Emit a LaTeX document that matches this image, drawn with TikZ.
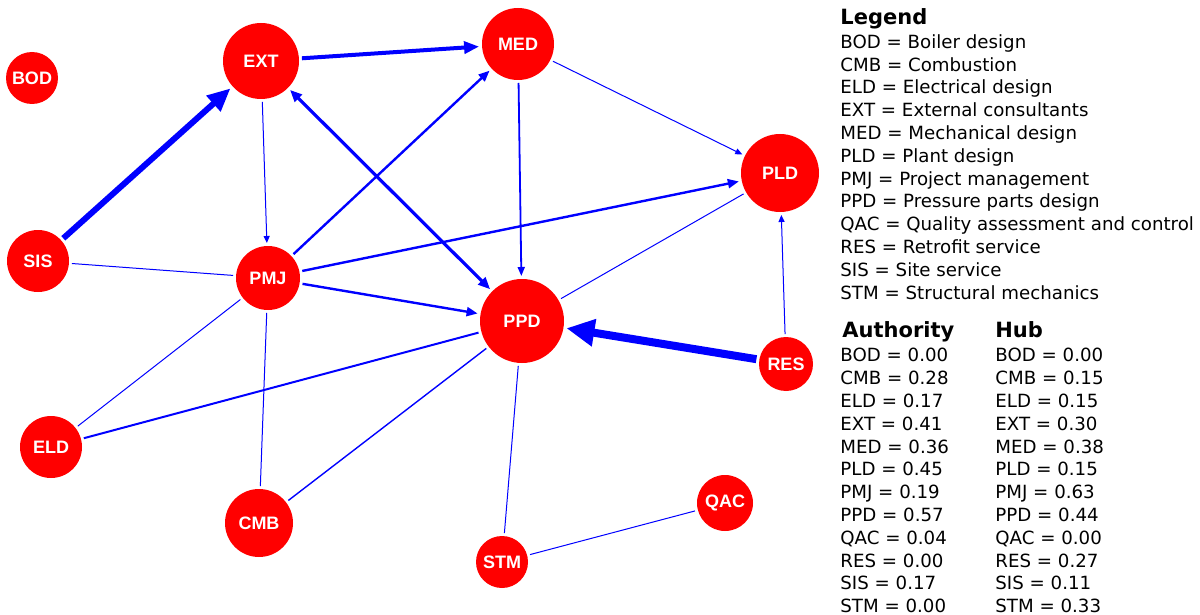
\documentclass[tikz,border=0pt]{standalone}
\usepackage{fontspec}
\usetikzlibrary{arrows.meta}
\newfontfamily\grouplabelfont{Liberation Sans}
\newfontfamily\legendfont{DejaVu Sans}

\tikzset{
	group/.style={circle, fill=red, text=white, inner sep=0pt, outer sep=1.5pt,
		font=\grouplabelfont\bfseries\fontsize{9}{9}\selectfont},
	weaklink/.style={draw=blue, line width=0.5pt},
	weakarc/.style={weaklink, -{Triangle[length=3.5pt,width=3pt]}},
	midlink/.style={draw=blue, line width=1pt},
	midarc/.style={draw=blue, line width=1.2pt, -{Triangle[length=5.5pt,width=4.5pt]}},
	strongarc/.style={draw=blue, line width=1.6pt, {Triangle[length=6pt,width=5pt]}-{Triangle[length=6pt,width=5pt]}},
	heavyarc/.style={draw=blue, line width=2pt, -{Triangle[length=7.5pt,width=6pt]}},
	heavierarc/.style={draw=blue, line width=3pt, -{Triangle[length=11.5pt,width=10pt]}},
	heaviestarc/.style={draw=blue, line width=4pt, -{Triangle[length=14pt,width=13pt]}},
	legendtext/.style={inner sep=0pt, align=left, font=\legendfont\fontsize{9.1}{11.4}\selectfont},
	legendhead/.style={inner sep=0pt, font=\legendfont\bfseries\fontsize{10.5}{12}\selectfont}
}

\begin{document}
\begin{tikzpicture}[x=0.5pt, y=-0.5pt]
	\useasboundingbox (0,0) rectangle (1200,615);

	% groups
	\node[group, minimum size=26pt] (bod) at (32,78) {BOD};
	\node[group, minimum size=38pt] (ext) at (261,61) {EXT};
	\node[group, minimum size=36pt] (med) at (518,44) {MED};
	\node[group, minimum size=31pt] (sis) at (38,261) {SIS};
	\node[group, minimum size=32pt] (pmj) at (268,278) {PMJ};
	\node[group, minimum size=42pt] (ppd) at (522,321) {PPD};
	\node[group, minimum size=31pt] (eld) at (51,447) {ELD};
	\node[group, minimum size=34pt] (cmb) at (259,523) {CMB};
	\node[group, minimum size=26pt] (stm) at (502,562) {STM};
	\node[group, minimum size=28pt] (qac) at (725,503) {QAC};
	\node[group, minimum size=39pt] (pld) at (780,173) {PLD};
	\node[group, minimum size=27pt] (res) at (786,364) {RES};

	% links
	\draw[heavierarc] (sis) -- (ext);
	\draw[heavyarc] (ext) -- (med);
	\draw[strongarc] (ext) -- (ppd);
	\draw[weakarc] (ext) -- (pmj);
	\draw[midarc] (pmj) -- (med);
	\draw[midarc] (pmj) -- (pld);
	\draw[midarc] (pmj) -- (ppd);
	\draw[draw=blue, line width=0.9pt, -{Triangle[length=4.5pt,width=3.5pt]}] (med) -- (ppd);
	\draw[weakarc] (med) -- (pld);
	\draw[weakarc] (res) -- (pld);
	\draw[heaviestarc] (res) -- (ppd);
	\draw[weaklink] (sis) -- (pmj);
	\draw[weaklink] (pmj) -- (eld);
	\draw[weaklink] (pmj) -- (cmb);
	\draw[midlink] (eld) -- (ppd);
	\draw[draw=blue, line width=0.7pt] (cmb) -- (ppd);
	\draw[weaklink] (ppd) -- (stm);
	\draw[weaklink] (ppd) -- (pld);
	\draw[weaklink] (stm) -- (qac);

	% legend
	\node[legendhead, anchor=base west] (legend) at (840,25) {Legend};
	\node[legendtext, anchor=north west] (names) at (840,34) {BOD = Boiler design\\
		CMB = Combustion\\
		ELD = Electrical design\\
		EXT = External consultants\\
		MED = Mechanical design\\
		PLD = Plant design\\
		PMJ = Project management\\
		PPD = Pressure parts design\\
		QAC = Quality assessment and control\\
		RES = Retrofit service\\
		SIS = Site service\\
		STM = Structural mechanics};

	\node[legendhead, anchor=base west] (authority) at (842,337) {Authority};
	\node[legendtext, anchor=north west] (authvalues) at (840,348) {BOD = 0.00\\
		CMB = 0.28\\
		ELD = 0.17\\
		EXT = 0.41\\
		MED = 0.36\\
		PLD = 0.45\\
		PMJ = 0.19\\
		PPD = 0.57\\
		QAC = 0.04\\
		RES = 0.00\\
		SIS = 0.17\\
		STM = 0.00};

	\node[legendhead, anchor=base west] (hub) at (995,337) {Hub};
	\node[legendtext, anchor=north west] (hubvalues) at (995,348) {BOD = 0.00\\
		CMB = 0.15\\
		ELD = 0.15\\
		EXT = 0.30\\
		MED = 0.38\\
		PLD = 0.15\\
		PMJ = 0.63\\
		PPD = 0.44\\
		QAC = 0.00\\
		RES = 0.27\\
		SIS = 0.11\\
		STM = 0.33};
\end{tikzpicture}
\end{document}
